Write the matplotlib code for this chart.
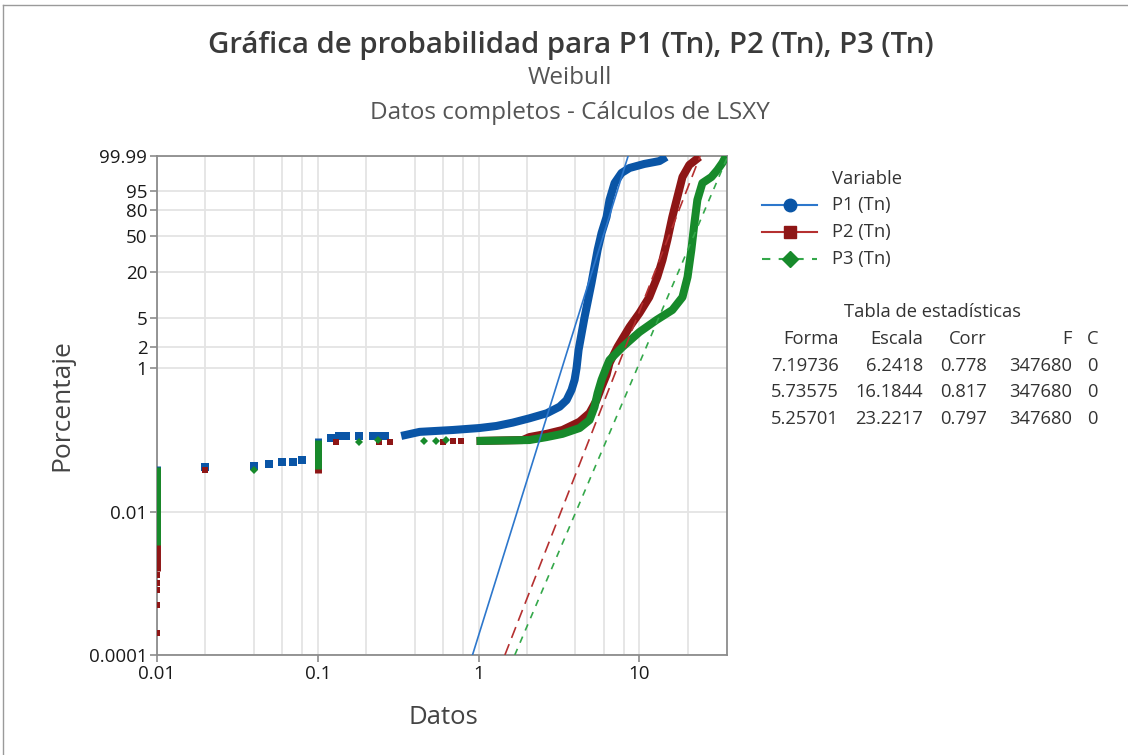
import numpy as np
import matplotlib
matplotlib.use('Agg')
import matplotlib.pyplot as plt
from matplotlib.lines import Line2D
from matplotlib.ticker import NullLocator, LogLocator

# ---------------- data ----------------
series_names = ["P1 (Tn)", "P2 (Tn)", "P3 (Tn)"]

# tied-value strips: x, lowest percent, highest percent
p1_strip_x = [0.01, 0.1]
p1_strip_lo = [0.006, 0.056]
p1_strip_hi = [0.043, 0.107]
p2_strip_x = [0.01, 0.1]
p2_strip_lo = [0.0015, 0.035]
p2_strip_hi = [0.038, 0.095]
p3_strip_x = [0.01, 0.1]
p3_strip_lo = [0.0034, 0.040]
p3_strip_hi = [0.042, 0.100]

# isolated points
p1_pts_x = [0.02, 0.04, 0.05, 0.06, 0.07, 0.08, 0.12, 0.135, 0.15, 0.18, 0.22, 0.24, 0.26]
p1_pts_p = [0.042, 0.043, 0.046, 0.049, 0.049, 0.053, 0.107, 0.113, 0.113, 0.114, 0.114, 0.114, 0.114]
p2_pts_x = [0.01, 0.01, 0.01, 0.01, 0.01, 0.02, 0.13, 0.24, 0.28, 0.6, 0.69, 0.78]
p2_pts_p = [0.0002, 0.0005, 0.0008, 0.0010, 0.0013, 0.038, 0.094, 0.094, 0.094, 0.094, 0.097, 0.097]
p3_pts_x = [0.04, 0.18, 0.236, 0.455, 0.54, 0.63]
p3_pts_p = [0.038, 0.094, 0.100, 0.097, 0.097, 0.100]

# dense parts of the empirical curves
p1_band_x = [0.33, 0.43, 0.69, 1.01, 1.29, 1.63, 2.07, 2.65, 3.19, 3.52, 3.78, 3.95, 4.06,
             4.18, 4.55, 5.03, 5.49, 5.81, 6.24, 6.51, 7.00, 7.73, 8.67, 10.7, 13.3, 14.7]
p1_band_p = [0.114, 0.130, 0.138, 0.147, 0.157, 0.175, 0.201, 0.236, 0.292, 0.36, 0.50, 0.69, 1.0,
             1.79, 5.0, 14.4, 36.2, 54.0, 72.7, 89.4, 97.9, 99.52, 99.81, 99.92, 99.96, 99.987]
p2_band_x = [0.97, 1.88, 2.07, 2.65, 3.32, 4.24, 4.89, 5.41, 5.81, 6.24, 6.51, 7.30, 8.67, 10.0,
             11.5, 12.9, 13.9, 14.9, 16.0, 17.2, 18.5, 20.4, 23.6]
p2_band_p = [0.097, 0.100, 0.110, 0.122, 0.138, 0.180, 0.238, 0.36, 0.55, 0.81, 1.18, 1.97, 3.71, 5.76,
             9.4, 17.2, 27.8, 46.2, 72.7, 91.5, 99.08, 99.90, 99.987]
p3_band_x = [0.97, 2.07, 2.65, 3.32, 4.24, 4.89, 5.25, 5.49, 5.81, 6.24, 6.51, 7.84, 10.0, 12.75,
             16.0, 18.5, 19.9, 21.0, 21.96, 22.9, 24.6, 28.0, 30.5, 32.8, 34.5]
p3_band_p = [0.097, 0.100, 0.110, 0.122, 0.147, 0.19, 0.289, 0.45, 0.69, 1.04, 1.30, 1.97, 3.17, 4.62,
             6.32, 9.4, 17.2, 36.2, 65.7, 89.4, 97.9, 99.08, 99.72, 99.94, 99.99]

# statistics table
forma = [7.19736, 5.73575, 5.25701]
escala = [6.2418, 16.1844, 23.2217]
corr = [0.778, 0.817, 0.797]
n_f = [347680, 347680, 347680]
n_c = [0, 0, 0]

ytick_vals = [0.0001, 0.01, 1, 2, 5, 20, 50, 80, 95, 99.99]
ytick_labels = ["0.0001", "0.01", "1", "2", "5", "20", "50", "80", "95", "99.99"]
xtick_vals = [0.01, 0.1, 1, 10]
xtick_labels = ["0.01", "0.1", "1", "10"]

# ---------------- style ----------------
plt.rcParams['font.family'] = ['Open Sans', 'DejaVu Sans']
dark = ['#0a55a6', '#8e1616', '#178a2b']
light = ['#2d77cc', '#b53030', '#34a84a']
fit_ls = ['-', (0, (7, 4)), (0, (4, 4))]
mk = ['s', 's', 'D']
mks = [5.2, 5.0, 4.0]
txt_col = '#333333'
fs_small = 13.2

fig = plt.figure(figsize=(11.28, 7.55), dpi=100)
W, H = 1128, 755
ax = fig.add_axes([157 / W, 1 - 655 / H, 570 / W, 499 / H])


def fwd(p):
    p = np.asarray(p, dtype=float)
    with np.errstate(all='ignore'):
        q = np.clip(p / 100.0, 1e-12, 1 - 1e-12)
        return np.log(-np.log1p(-q))


def inv(w):
    w = np.asarray(w, dtype=float)
    with np.errstate(all='ignore'):
        return 100.0 * (-np.expm1(-np.exp(w)))


ax.set_xscale('log')
ax.set_yscale('function', functions=(fwd, inv))
ax.set_xlim(0.01, 35)
ax.set_ylim(0.0001, 99.99)

strips = [(p1_strip_x, p1_strip_lo, p1_strip_hi), (p2_strip_x, p2_strip_lo, p2_strip_hi),
          (p3_strip_x, p3_strip_lo, p3_strip_hi)]
pts = [(p1_pts_x, p1_pts_p), (p2_pts_x, p2_pts_p), (p3_pts_x, p3_pts_p)]
bands = [(p1_band_x, p1_band_p), (p2_band_x, p2_band_p), (p3_band_x, p3_band_p)]

for i in range(3):
    sx, slo, shi = strips[i]
    ax.vlines(sx, slo, shi, colors=dark[i], linewidth=5.0, zorder=3 + i, capstyle='butt')
    px, pp = pts[i]
    ax.plot(px, pp, linestyle='none', marker=mk[i], markersize=mks[i], color=dark[i],
            markeredgewidth=0, zorder=3 + i)
    bx, bp = bands[i]
    ax.plot(bx, bp, color=dark[i], linewidth=5.8, solid_capstyle='butt', solid_joinstyle='round',
            zorder=3 + i)

# fitted Weibull lines from the table parameters
pgrid = np.array([0.0001, 0.001, 0.01, 0.1, 1, 10, 50, 90, 99, 99.99])
for i in range(3):
    xf = escala[i] * (-np.log1p(-pgrid / 100.0)) ** (1.0 / forma[i])
    ax.plot(xf, pgrid, color=light[i], linewidth=1.2, linestyle=fit_ls[i], zorder=7)

ax.set_yticks(ytick_vals)
ax.set_yticklabels(ytick_labels)
ax.yaxis.set_minor_locator(NullLocator())
ax.set_xticks(xtick_vals)
ax.set_xticklabels(xtick_labels)
ax.xaxis.set_minor_locator(LogLocator(base=10, subs=(2, 4, 6, 8)))
ax.tick_params(which='minor', length=0)
ax.tick_params(which='major', length=5, width=1.2, color='#8c8c8c', labelsize=13.5,
               labelcolor='#1a1a1a', pad=2)
for lab in ax.get_xticklabels() + ax.get_yticklabels():
    lab.set_fontweight('medium')
ax.grid(True, which='both', axis='x', color='#e4e4e4', linewidth=1.3, zorder=0)
ax.grid(True, which='major', axis='y', color='#e4e4e4', linewidth=1.3, zorder=0)
ax.set_axisbelow(True)
for s in ax.spines.values():
    s.set_color('#8c8c8c')
    s.set_linewidth(1.3)

# titles
fig.text(571 / W, 1 - 45 / H, "Gráfica de probabilidad para P1 (Tn), P2 (Tn), P3 (Tn)",
         ha='center', va='center', fontsize=21.2, fontweight='semibold', color='#3a3a3a')
fig.text(570 / W, 1 - 78 / H, "Weibull", ha='center', va='center', fontsize=17.5, color='#555555')
fig.text(570 / W, 1 - 113 / H, "Datos completos - Cálculos de LSXY", ha='center', va='center',
         fontsize=17.5, color='#555555')
fig.text(62 / W, 1 - 405 / H, "Porcentaje", rotation=90, ha='center', va='center', fontsize=19,
         color='#444444')
fig.text(443 / W, 1 - 718 / H, "Datos", ha='center', va='center', fontsize=18.5, color='#444444')

# legend
fig.text(832 / W, 1 - 179 / H, "Variable", ha='left', va='center', fontsize=fs_small, color=txt_col)
leg_y = [205, 232, 259]
leg_mk = ['o', 's', 'D']
for i in range(3):
    yy = 1 - leg_y[i] / H
    fig.add_artist(Line2D([762 / W, 817 / W], [yy, yy], transform=fig.transFigure, color=light[i],
                          linewidth=1.5, linestyle=['-', '-', (0, (4, 4))][i]))
    fig.add_artist(Line2D([789.5 / W], [yy], transform=fig.transFigure, marker=leg_mk[i],
                          markersize=[9, 8.5, 8.5][i], color=dark[i], linestyle='none'))
    fig.text(832 / W, yy, series_names[i], ha='left', va='center', fontsize=fs_small, color=txt_col)

# statistics table
fig.text(933 / W, 1 - 312 / H, "Tabla de estadísticas", ha='center', va='center', fontsize=fs_small,
         color=txt_col)
col_x = [839, 923, 987, 1072, 1098]
heads = ["Forma", "Escala", "Corr", "F", "C"]
for cx, h in zip(col_x, heads):
    fig.text(cx / W, 1 - 339 / H, h, ha='right', va='center', fontsize=fs_small, color=txt_col)
row_y = [366, 392, 419]
for i in range(3):
    vals = [f"{forma[i]:.5f}", f"{escala[i]:g}", f"{corr[i]:.3f}", f"{n_f[i]}", f"{n_c[i]}"]
    for cx, v in zip(col_x, vals):
        fig.text(cx / W, 1 - row_y[i] / H, v, ha='right', va='center', fontsize=fs_small, color=txt_col)

# page border
fig.add_artist(Line2D([3 / W, 3 / W], [0, 1 - 5 / H], transform=fig.transFigure, color='#9a9a9a', lw=1))
fig.add_artist(Line2D([3 / W, 1], [1 - 5 / H, 1 - 5 / H], transform=fig.transFigure, color='#9a9a9a', lw=1))

fig.savefig('out.png', dpi=100)
